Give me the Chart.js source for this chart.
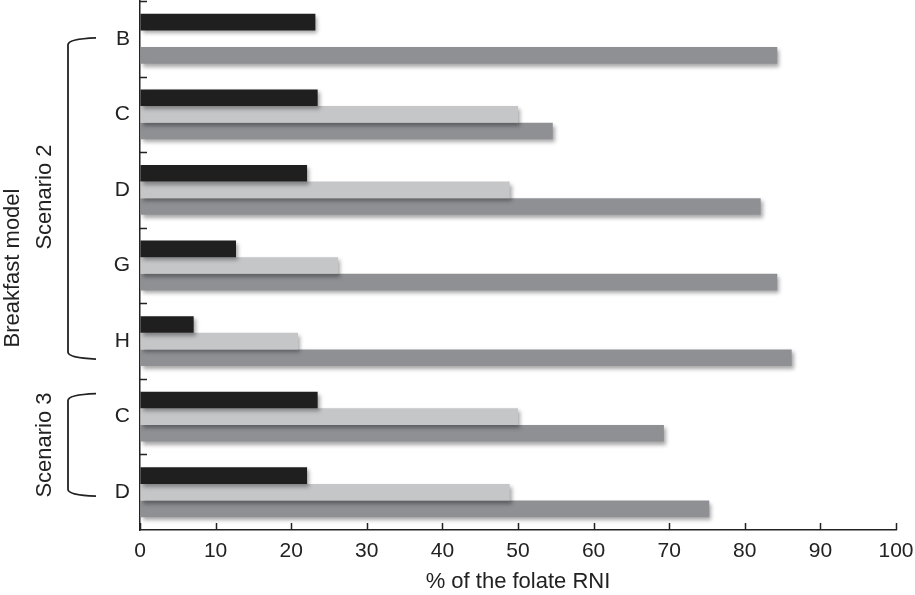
<!DOCTYPE html>
<html>
<head>
<meta charset="utf-8">
<script src="https://cdn.jsdelivr.net/npm/chart.js@4/dist/chart.umd.min.js"></script>
<style>
  html, body { margin: 0; padding: 0; background: #fff; }
  #wrap { width: 915px; height: 595px; position: relative; }
</style>
</head>
<body>
<div id="wrap"><canvas id="grafica"></canvas></div>
<script>
const categories = ['B', 'C', 'D', 'G', 'H', 'C', 'D'];
const serieNegra = [23.2, 23.5, 22.1, 12.7, 7.1, 23.5, 22.1];
const serieClara = [null, 50.0, 48.9, 26.2, 20.9, 50.0, 48.9];
const serieOscura = [84.3, 54.6, 82.1, 84.3, 86.2, 69.3, 75.3];
const xTicks = [0, 10, 20, 30, 40, 50, 60, 70, 80, 90, 100];

const FONT = '"Liberation Sans", Arial, Helvetica, sans-serif';

// sombra suave bajo las barras
const sombra = {
  id: 'sombra',
  beforeDatasetsDraw(chart) {
    const ctx = chart.ctx;
    ctx.save();
    ctx.shadowColor = 'rgba(0,0,0,0.35)';
    ctx.shadowBlur = 4;
    ctx.shadowOffsetX = 2;
    ctx.shadowOffsetY = 3;
  },
  afterDatasetsDraw(chart) {
    chart.ctx.restore();
  }
};

// marcas hacia dentro, llaves y textos rotados
const adornos = {
  id: 'adornos',
  afterDraw(chart) {
    const ctx = chart.ctx;
    const x = chart.scales.x;
    const y = chart.scales.y;
    const area = chart.chartArea;
    ctx.save();
    ctx.strokeStyle = '#222';
    ctx.lineWidth = 1.5;
    ctx.beginPath();
    xTicks.forEach(v => {
      const px = Math.round(x.getPixelForValue(v)) + 0.5;
      ctx.moveTo(px, area.bottom);
      ctx.lineTo(px, area.bottom - 7);
    });
    for (let i = 0; i < categories.length; i++) {
      const py = Math.round(y.getPixelForValue(i - 0.5)) + 0.5;
      ctx.moveTo(area.left, py);
      ctx.lineTo(area.left + 7, py);
    }
    ctx.stroke();

    // llaves
    function llave(top, bottom) {
      const xv = 68, xa = 96, r = 6;
      ctx.beginPath();
      ctx.moveTo(xa, top - 1);
      ctx.quadraticCurveTo(xv, top, xv, top + r);
      ctx.lineTo(xv, bottom - r);
      ctx.quadraticCurveTo(xv, bottom, xa, bottom + 1);
      ctx.stroke();
    }
    ctx.lineWidth = 1.8;
    llave(y.getPixelForValue(0), y.getPixelForValue(4) + 17);
    llave(y.getPixelForValue(5) - 22, y.getPixelForValue(6) + 3);

    ctx.fillStyle = '#222';
    ctx.font = '22px ' + FONT;
    ctx.textAlign = 'center';
    ctx.textBaseline = 'middle';
    function rotado(txt, cx, cy) {
      ctx.save();
      ctx.translate(cx, cy);
      ctx.rotate(-Math.PI / 2);
      ctx.fillText(txt, 0, 0);
      ctx.restore();
    }
    rotado('Scenario 2', 45, 197);
    rotado('Scenario 3', 45, 445);
    rotado('Breakfast model', 13, 268);
    ctx.restore();
  }
};

const ctx = document.getElementById('grafica').getContext('2d');
const chart = new Chart(ctx, {
  type: 'bar',
  data: {
    labels: categories,
    datasets: [
      { data: serieNegra, backgroundColor: '#1f1f1f' },
      { data: serieClara, backgroundColor: '#c5c6c8' },
      { data: serieOscura, backgroundColor: '#8e9094' }
    ]
  },
  options: {
    indexAxis: 'y',
    responsive: true,
    maintainAspectRatio: false,
    animation: false,
    datasets: {
      bar: { barPercentage: 1, categoryPercentage: 0.66, borderWidth: 0 }
    },
    layout: { padding: { top: 1, right: 19, left: 0, bottom: 0 } },
    scales: {
      x: {
        min: 0,
        max: 100,
        afterBuildTicks(scale) {
          scale.ticks = xTicks.map(v => ({ value: v }));
        },
        afterFit(scale) {
          scale.height = 65;
          scale.paddingLeft = 0;
          scale.paddingRight = 0;
        },
        grid: { drawOnChartArea: false, drawTicks: false },
        border: { display: true, color: '#222', width: 1.5 },
        ticks: {
          padding: 9,
          color: '#222',
          font: { family: FONT, size: 21 }
        },
        title: {
          display: true,
          text: '% of the folate RNI',
          color: '#222',
          padding: { top: 3, bottom: 0 },
          font: { family: FONT, size: 22 }
        }
      },
      y: {
        afterFit(scale) {
          scale.width = 140;
          scale.paddingTop = 0;
          scale.paddingBottom = 0;
        },
        grid: { drawOnChartArea: false, drawTicks: false, offset: true },
        border: { display: true, color: '#222', width: 1.5 },
        ticks: {
          padding: 10,
          color: '#222',
          font: { family: FONT, size: 21 }
        }
      }
    },
    plugins: {
      legend: { display: false },
      tooltip: { enabled: false }
    }
  },
  plugins: [sombra, adornos]
});
</script>
</body>
</html>
